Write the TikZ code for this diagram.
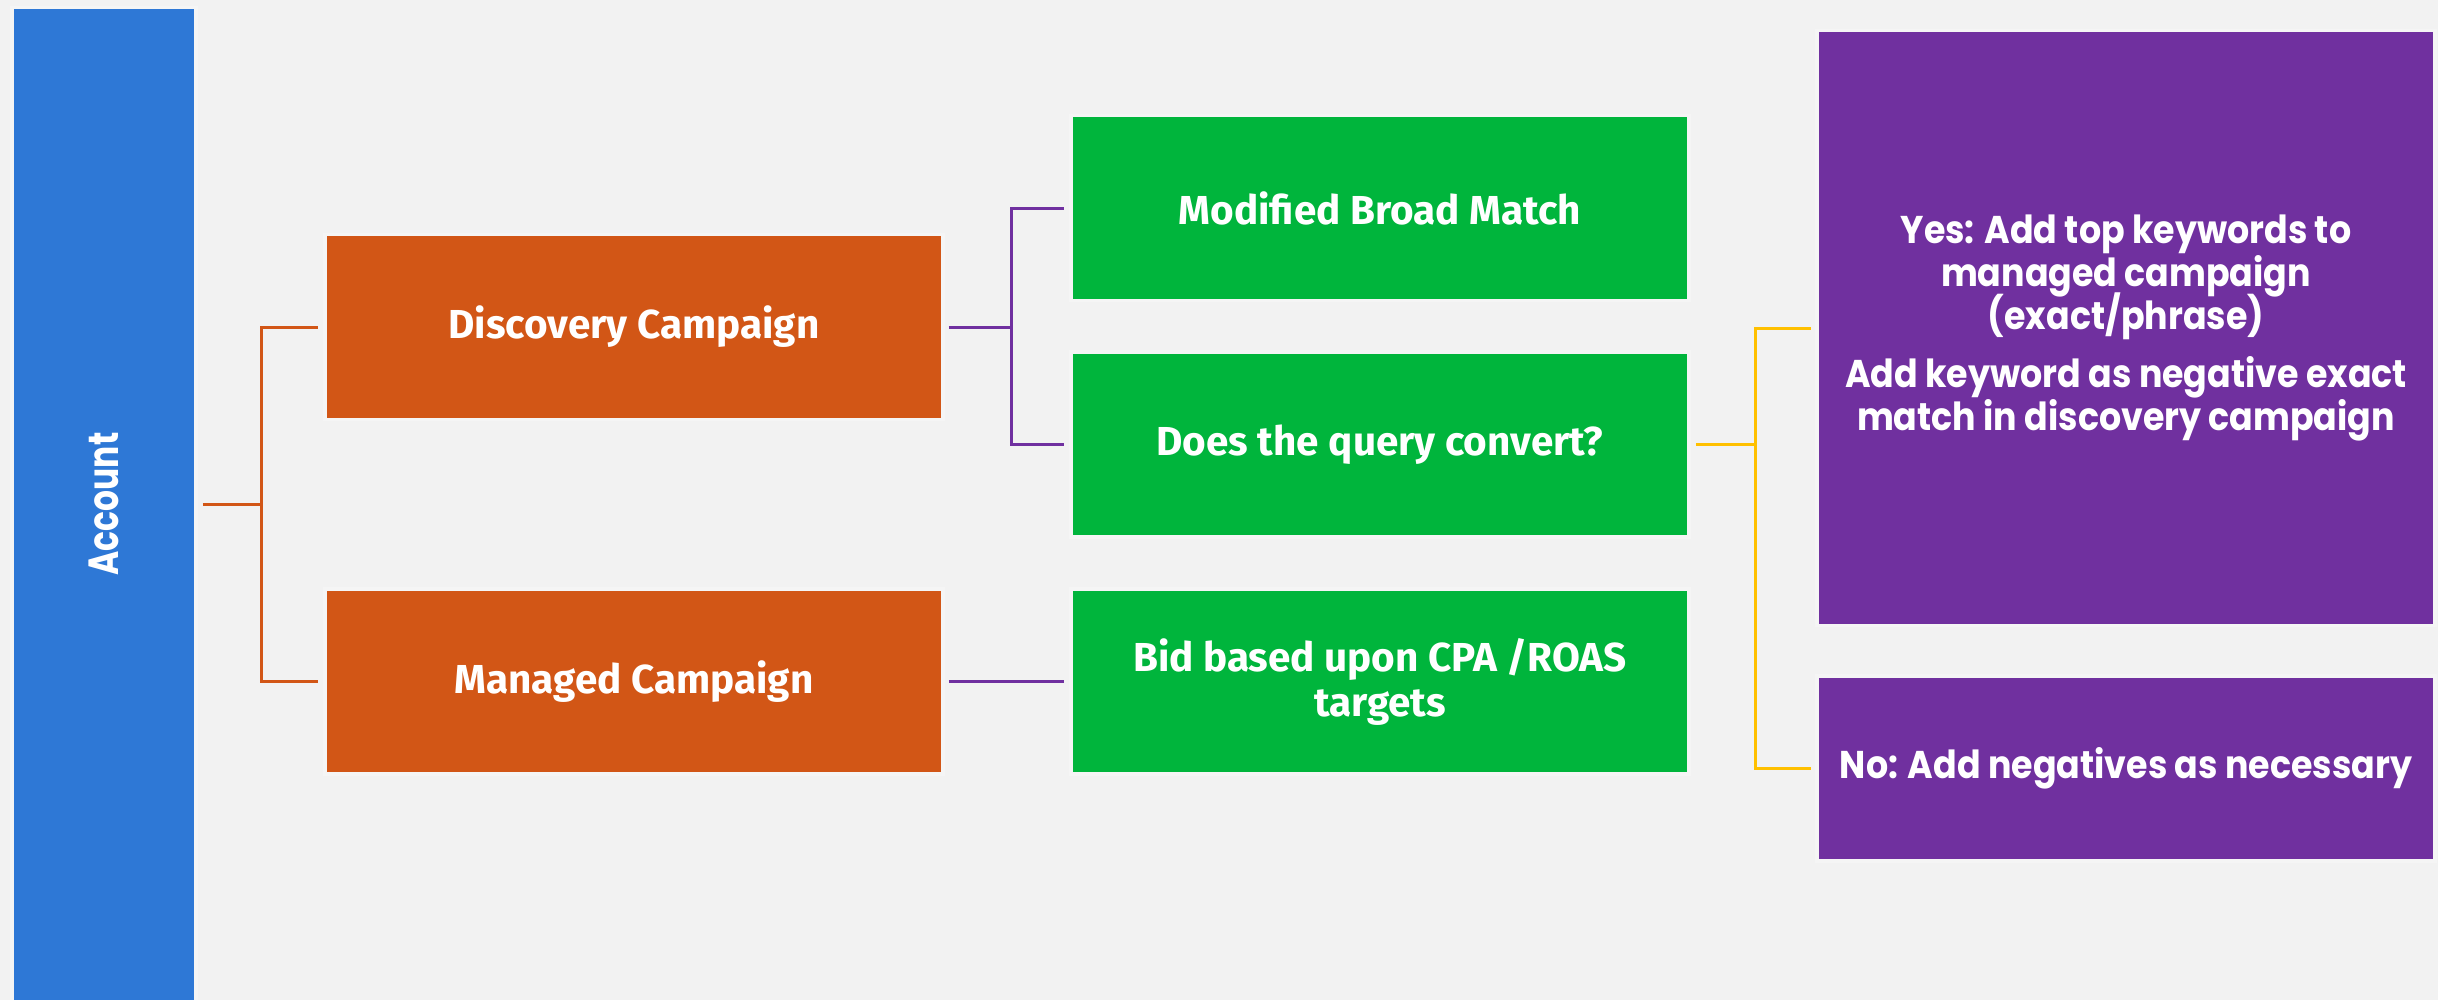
\documentclass[tikz,border=0pt]{standalone}
\usepackage{fontspec}
\setmainfont{Poppins}
\newfontfamily\gothic{Poppins}[FakeStretch=0.9]
\newfontfamily\gothicnarrow{Poppins}[FakeStretch=0.78]
\newfontfamily\narrowsans{Fira Sans}[FakeStretch=1.0]
\newcommand\tightlines{\lineskiplimit=-20pt\relax}
\definecolor{bgcol}{HTML}{F2F2F2}
\definecolor{acctblue}{HTML}{2E78D6}
\definecolor{campor}{HTML}{D25616}
\definecolor{stepgreen}{HTML}{00B53C}
\definecolor{resultpurple}{HTML}{70309F}
\definecolor{linkpurple}{HTML}{7030A0}
\definecolor{linkyellow}{HTML}{FFC000}
\begin{document}
\begin{tikzpicture}[x=0.01cm,y=-0.01cm,
  box/.style={rectangle, draw=white!96!black, line width=0.035cm, text=white, align=center, inner sep=0pt},
  campbox/.style={box, fill=campor, minimum width=6.18cm, minimum height=1.85cm,
    font=\narrowsans\bfseries\fontsize{11.5}{13}\selectfont\tightlines},
  stepbox/.style={box, fill=stepgreen, minimum width=6.18cm, minimum height=1.85cm,
    font=\narrowsans\bfseries\fontsize{11.5}{12.8}\selectfont\tightlines},
  resbox/.style={box, fill=resultpurple, minimum width=6.18cm,
    font=\gothic\bfseries\fontsize{11}{12.2}\selectfont\tightlines},
  link/.style={line width=0.03cm}
]
% page and background
\fill[bgcol] (0,0) rectangle (2438,1000);
\useasboundingbox (0,0) rectangle (2438,1000);

% root column
\node[box, fill=acctblue, minimum width=1.84cm, minimum height=10.0cm] (acct) at (104,508) {};
\node[rotate=90, text=white, font=\gothicnarrow\bfseries\fontsize{12}{14}\selectfont] (accttxt) at (104,504) {Account};

% campaigns
\node[campbox] (disc) at (634,327) {Discovery Campaign};
\node[campbox] (mgd) at (634,681.5) {Managed Campaign};

% match types and actions
\node[stepbox] (mbm) at (1380,208) {Modified Broad Match};
\node[stepbox] (qry) at (1380,444.5) {Does the query convert?};
\node[stepbox] (bid) at (1380,681.5) {Bid based upon CPA /ROAS\\targets};

% outcomes
\node[resbox, minimum height=5.95cm] (yes) at (2126,328)
  {Yes: Add top keywords to\\managed campaign\\(exact/phrase)\\[4.5pt]Add keyword as negative exact\\match in discovery campaign};
\node[resbox, minimum height=1.85cm] (no) at (2126,768.5) {No: Add negatives as necessary};

% connectors
\draw[link, campor] ([xshift=0.05cm]acct.east |- 0,504) -- ++(0.59cm,0) coordinate (ta)
  |- ([xshift=-0.05cm]disc.west);
\draw[link, campor] (ta) |- ([xshift=-0.05cm]mgd.west);

\draw[link, linkpurple] ([xshift=0.04cm]disc.east) -- ++(0.63cm,0) coordinate (tb)
  |- ([xshift=-0.05cm]mbm.west);
\draw[link, linkpurple] (tb) |- ([xshift=-0.05cm]qry.west);
\draw[link, linkpurple] ([xshift=0.04cm]mgd.east) -- ([xshift=-0.05cm]bid.west);

\draw[link, linkyellow] ([xshift=0.05cm]qry.east) -- ++(0.60cm,0) coordinate (tc)
  |- ([xshift=-0.04cm]yes.west);
\draw[link, linkyellow] (tc) |- ([xshift=-0.04cm]no.west);
\end{tikzpicture}
\end{document}
